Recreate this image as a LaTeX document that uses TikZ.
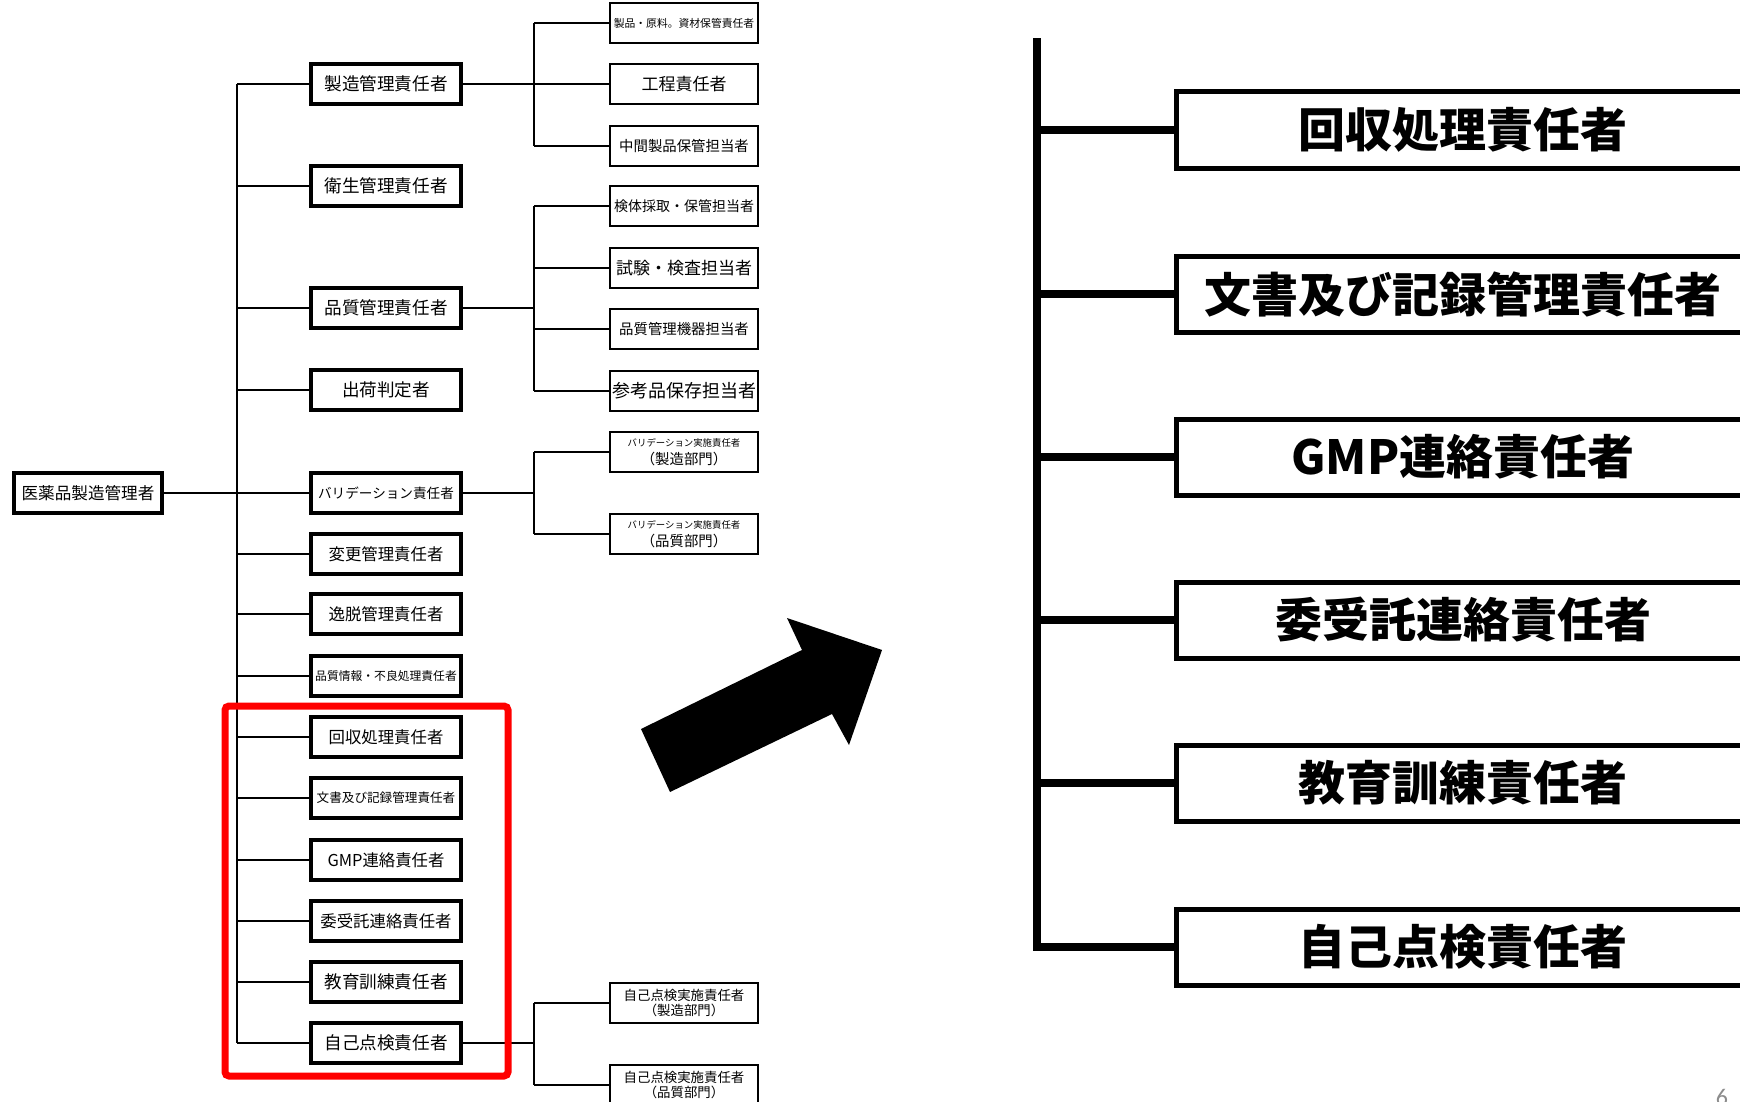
\documentclass[tikz,border=0pt]{standalone}
\usepackage{fontspec}
\setmainfont{Noto Sans CJK JP}
\newfontfamily\slidefont{Carlito}
\usepackage{tikz}
\usetikzlibrary{positioning}
\usepackage{xcolor}
\definecolor{hlred}{RGB}{255,0,0}
\tikzstyle{link} = [line width=0.7pt, color=black]
\tikzstyle{biglink} = [line width=4pt, color=black]
\tikzstyle{headbox} = [rectangle, draw=black, line width=1.6pt, fill=white, minimum width=74pt, minimum height=20pt, inner sep=0pt, text centered, font=\fontsize{8.3pt}{10pt}\selectfont]
\tikzstyle{rolebox} = [rectangle, draw=black, line width=1.6pt, fill=white, minimum width=75pt, minimum height=20pt, inner sep=0pt, text centered, font=\fontsize{8.8pt}{10pt}\selectfont]
\tikzstyle{staffbox} = [rectangle, draw=black, line width=0.9pt, fill=white, minimum width=74pt, minimum height=20pt, inner sep=0pt, align=center, font=\fontsize{7.2pt}{9pt}\selectfont]
\tikzstyle{bigbox} = [rectangle, draw=black, line width=2.5pt, fill=white, minimum width=287pt, minimum height=38pt, inner sep=0pt, text centered, font=\bfseries\fontsize{23.5pt}{26pt}\selectfont]
\tikzstyle{highlight} = [draw=hlred, line width=3.5pt, rounded corners=2pt]

\begin{document}
\begin{tikzpicture}[x=0.5pt, y=-0.5pt]
\useasboundingbox (0,0) rectangle (1740,1102);
\clip (0,0) rectangle (1740,1102);
\fill[white] (0,0) rectangle (1740,1102);

% Root
\node[headbox] (root) at (88,493) {医薬品製造管理者};

% Managers
\node[rolebox] (mfg) at (386,84) {製造管理責任者};
\node[rolebox] (hyg) at (386,186) {衛生管理責任者};
\node[rolebox] (qc) at (386,308) {品質管理責任者};
\node[rolebox] (ship) at (386,390) {出荷判定者};
\node[rolebox, font=\fontsize{6.8pt}{8pt}\selectfont] (valid) at (386,493) {バリデーション責任者};
\node[rolebox, font=\fontsize{8.2pt}{10pt}\selectfont] (chg) at (386,554) {変更管理責任者};
\node[rolebox, font=\fontsize{8.2pt}{10pt}\selectfont] (dev) at (386,614) {逸脱管理責任者};
\node[rolebox, font=\fontsize{5.9pt}{7pt}\selectfont] (qinfo) at (386,676) {品質情報・不良処理責任者};
\node[rolebox, font=\fontsize{8.2pt}{10pt}\selectfont] (recall) at (386,737) {回収処理責任者};
\node[rolebox, font=\fontsize{6.3pt}{8pt}\selectfont] (doc) at (386,798) {文書及び記録管理責任者};
\node[rolebox, font=\fontsize{8.2pt}{10pt}\selectfont] (gmp) at (386,860) {GMP連絡責任者};
\node[rolebox, font=\fontsize{8.2pt}{10pt}\selectfont] (cons) at (386,921) {委受託連絡責任者};
\node[rolebox] (edu) at (386,982) {教育訓練責任者};
\node[rolebox] (audit) at (386,1043) {自己点検責任者};

% Staff
\node[staffbox, font=\fontsize{5.4pt}{7pt}\selectfont] (prod) at (684,23) {製品・原料。資材保管責任者};
\node[staffbox, font=\fontsize{8.5pt}{10pt}\selectfont] (proc) at (684,84) {工程責任者};
\node[staffbox] (wip) at (684,146) {中間製品保管担当者};
\node[staffbox, font=\fontsize{7pt}{9pt}\selectfont] (samp) at (684,206) {検体採取・保管担当者};
\node[staffbox, font=\fontsize{8.5pt}{10pt}\selectfont] (test) at (684,268) {試験・検査担当者};
\node[staffbox] (inst) at (684,329) {品質管理機器担当者};
\node[staffbox, font=\fontsize{9pt}{10pt}\selectfont] (ref) at (684,391) {参考品保存担当者};
\node[staffbox] (valm) at (684,452) {{\fontsize{4.7pt}{5.5pt}\selectfont バリデーション実施責任者}\\（製造部門）};
\node[staffbox] (valq) at (684,534) {{\fontsize{4.7pt}{5.5pt}\selectfont バリデーション実施責任者}\\（品質部門）};
\node[staffbox, font=\fontsize{6.7pt}{7.5pt}\selectfont] (audm) at (684,1003) {自己点検実施責任者\\（製造部門）};
\node[staffbox, font=\fontsize{6.7pt}{7.5pt}\selectfont] (audq) at (684,1085) {自己点検実施責任者\\（品質部門）};

% Tree lines
\coordinate (trunk) at (237,0);
\coordinate (col2) at (534,0);
\draw[link] (root.east) -- (valid.west);
\draw[link] (mfg.west -| trunk) -- (audit.west -| trunk);
\foreach \n in {mfg,hyg,qc,ship,chg,dev,qinfo,recall,doc,gmp,cons,edu,audit}
  \draw[link] (\n.west -| trunk) -- (\n.west);
\draw[link] (mfg.east) -- (proc.west);
\draw[link] (prod.west -| col2) -- (wip.west -| col2);
\foreach \n in {prod,wip}
  \draw[link] (\n.west -| col2) -- (\n.west);
\draw[link] (qc.east) -- (qc.east -| col2);
\draw[link] (samp.west -| col2) -- (ref.west -| col2);
\foreach \n in {samp,test,inst,ref}
  \draw[link] (\n.west -| col2) -- (\n.west);
\draw[link] (valid.east) -- (valid.east -| col2);
\draw[link] (valm.west -| col2) -- (valq.west -| col2);
\foreach \n in {valm,valq}
  \draw[link] (\n.west -| col2) -- (\n.west);
\draw[link] (audit.east) -- (audit.east -| col2);
\draw[link] (audm.west -| col2) -- (audq.west -| col2);
\foreach \n in {audm,audq}
  \draw[link] (\n.west -| col2) -- (\n.west);

% Highlight
\draw[highlight] (225,706) rectangle (508,1076);

% Arrow
\fill[black] (670,792) -- (641,729) -- (802,650) -- (787,618) -- (882,650) -- (849,745) -- (832,714) -- cycle;

% Enlarged part
\node[bigbox] (recall2) at (1463,130) {回収処理責任者};
\node[bigbox] (doc2) at (1463,294) {文書及び記録管理責任者};
\node[bigbox] (gmp2) at (1463,457) {GMP連絡責任者};
\node[bigbox] (cons2) at (1463,620) {委受託連絡責任者};
\node[bigbox] (edu2) at (1463,783) {教育訓練責任者};
\node[bigbox] (audit2) at (1463,947) {自己点検責任者};

\coordinate (bigtrunk) at (1037,0);
\coordinate (bigtop) at (1037,42);
\draw[biglink, line cap=rect] (bigtop) -- (audit2.west -| bigtrunk);
\foreach \n in {recall2,doc2,gmp2,cons2,edu2,audit2}
  \draw[biglink] (\n.west -| bigtrunk) -- (\n.west);

% Page number
\node[anchor=base, text=black!45, font=\slidefont\fontsize{12pt}{14pt}\selectfont] (pageno) at (1722,1105) {6};
\end{tikzpicture}
\end{document}
